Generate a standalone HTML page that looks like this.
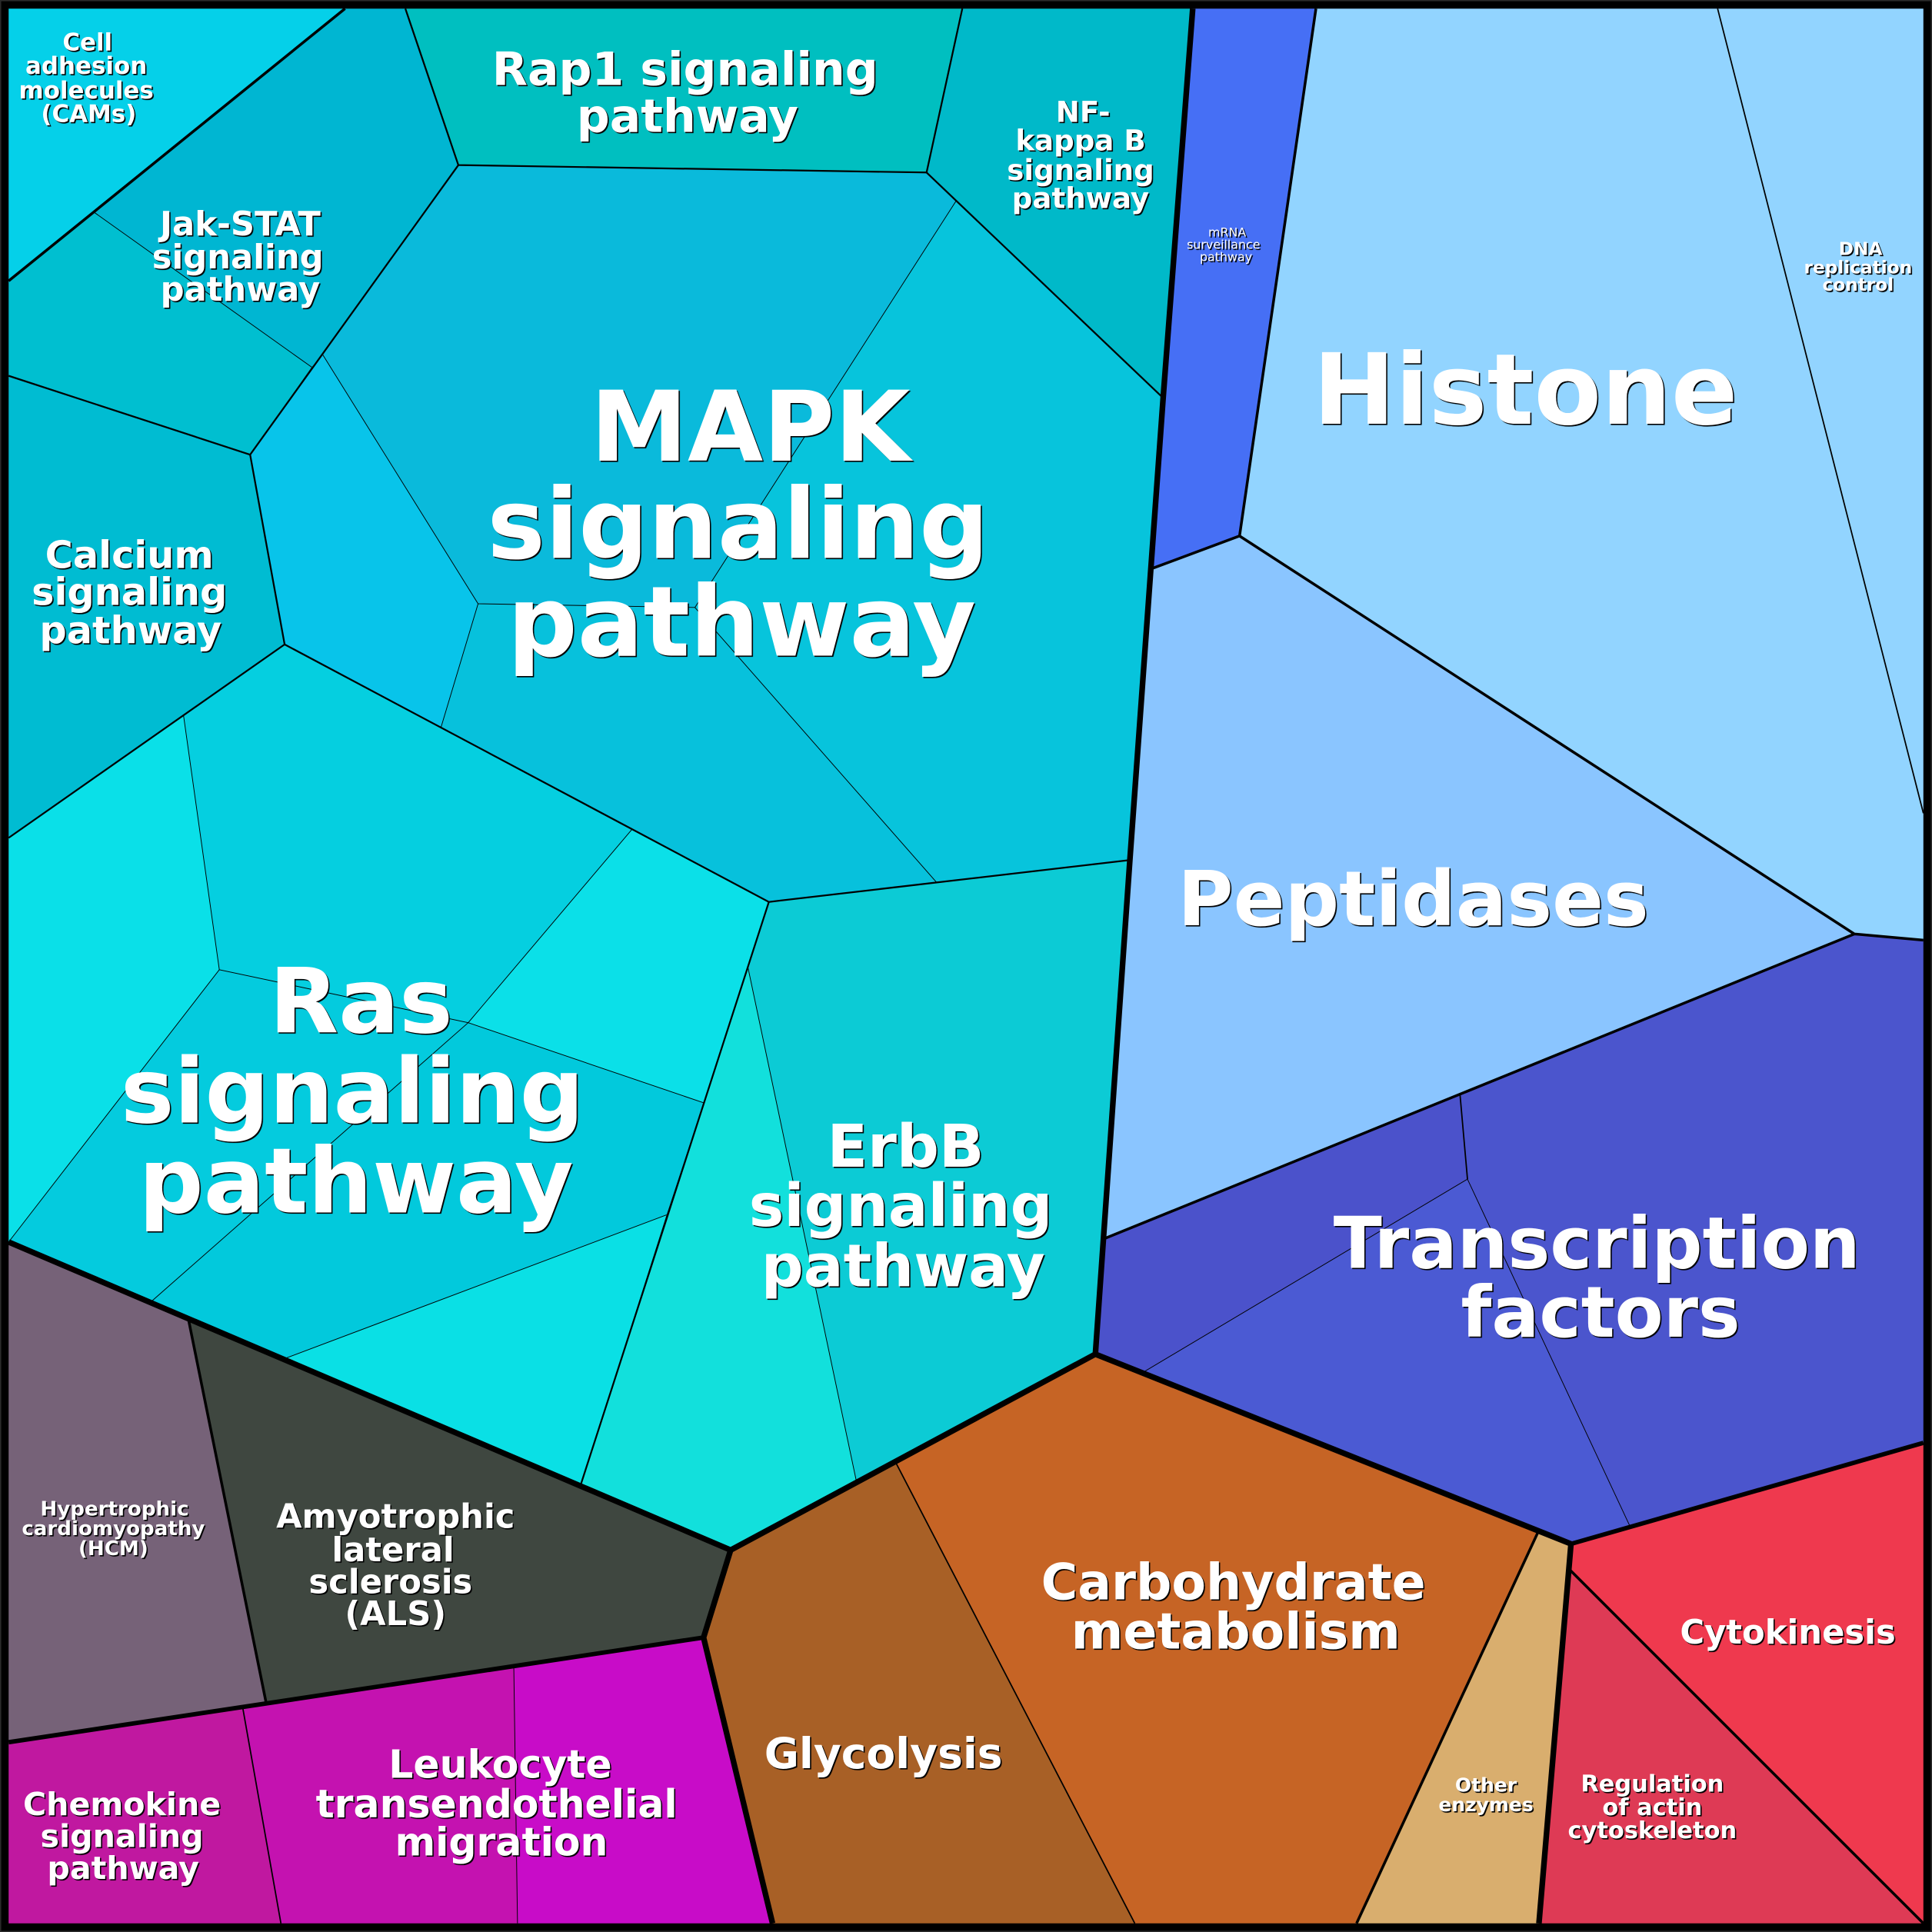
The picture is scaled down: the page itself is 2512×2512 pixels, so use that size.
<!DOCTYPE html>
<html><head><meta charset="utf-8"><style>
html,body{margin:0;padding:0;background:#000;width:2512px;height:2512px;overflow:hidden}
svg{display:block}
text{font-family:"DejaVu Sans",sans-serif;font-weight:bold;fill:#fff;text-anchor:middle}
.s{filter:drop-shadow(1px 1px 0 #000)}
.l{filter:drop-shadow(1.5px 1.5px 0 #000)}
</style></head><body>
<svg xmlns="http://www.w3.org/2000/svg" width="2512" height="2512" viewBox="0 0 1568 1568">
<rect width="1568" height="1568" fill="#000" stroke="#2a2a2a" stroke-width="2"/>
<g stroke="none">
<polygon fill="#05d0e9" points="7,7 280,7 7,228"/>
<polygon fill="#00b6d2" points="280,7 329,7 372,134 262,288 253,298 76,172"/>
<polygon fill="#00bfd0" points="7,228 76,172 253,298 203,369 7,305"/>
<polygon fill="#00bfc0" points="329,7 781,7 752,140 372,134"/>
<polygon fill="#00b9c9" points="781,7 968,7 944,323 776,163 752,140"/>
<polygon fill="#0abadb" points="372,134 752,140 776,163 564,493 388,490 262,288"/>
<polygon fill="#08c4ea" points="262,288 388,490 358,590 231,523 203,369"/>
<polygon fill="#07c4dc" points="776,163 944,323 917,698 760,716 564,493"/>
<polygon fill="#07c1dc" points="388,490 564,493 760,716 624,732 513,673 358,590"/>
<polygon fill="#00bcd2" points="7,305 203,369 231,523 149,581 7,680"/>
<polygon fill="#0ae0e8" points="7,680 149,581 178,787 7,1008"/>
<polygon fill="#05cfe0" points="149,581 231,523 358,590 513,673 380,830 178,787"/>
<polygon fill="#0be0e8" points="513,673 624,732 607,785 571,895 380,830"/>
<polygon fill="#04cbde" points="178,787 380,830 122,1057 7,1008"/>
<polygon fill="#02c9dc" points="380,830 571,895 541,986 230,1103 122,1057"/>
<polygon fill="#0ae0e5" points="541,986 471,1206 230,1103"/>
<polygon fill="#0ccbd5" points="624,732 760,716 917,698 889,1099 695,1202 607,785"/>
<polygon fill="#12e0dc" points="607,785 695,1202 593,1258 471,1206"/>
<polygon fill="#466ff5" points="968,7 1068,7 1006,435 936,461"/>
<polygon fill="#92d4ff" points="1068,7 1394,7 1561,660 1561,763 1505,758 1006,435"/>
<polygon fill="#92d4ff" points="1394,7 1561,7 1561,660"/>
<polygon fill="#8ac5ff" points="936,461 1006,435 1505,758 1185,889 897,1005"/>
<polygon fill="#4b52cb" points="897,1005 1185,889 1191,957 929,1113 889,1099"/>
<polygon fill="#4b55cd" points="1185,889 1505,758 1561,763 1561,1171 1323,1239 1191,957"/>
<polygon fill="#4b5ad3" points="1191,957 1323,1239 1275,1253 929,1113"/>
<polygon fill="#c66425" points="889,1099 1248,1244 1101,1561 921,1561 727,1187"/>
<polygon fill="#a86026" points="593,1258 727,1187 921,1561 627,1561 571,1329"/>
<polygon fill="#d9ae6e" points="1248,1244 1275,1253 1272,1272 1249,1561 1101,1561"/>
<polygon fill="#de3a55" points="1272,1272 1561,1561 1249,1561"/>
<polygon fill="#ef394e" points="1275,1253 1561,1171 1561,1561 1272,1272"/>
<polygon fill="#766278" points="7,1008 153,1071 216,1382 7,1414"/>
<polygon fill="#3f4740" points="153,1071 593,1258 571,1329 216,1382"/>
<polygon fill="#c018a0" points="7,1414 197,1386 228,1561 7,1561"/>
<polygon fill="#c412b0" points="197,1386 417,1353 420,1561 228,1561"/>
<polygon fill="#c80cc8" points="417,1353 571,1329 627,1561 420,1561"/>
</g>
<g fill="none" stroke="#000" stroke-linejoin="miter">
<g stroke-width="0.6">
<polyline points="76,172 253,298"/>
<polyline points="262,288 388,490 564,493"/>
<polyline points="388,490 358,590"/>
<polyline points="776,163 564,493 760,716"/>
<polyline points="149,581 178,787 380,830 513,673"/>
<polyline points="178,787 7,1008"/>
<polyline points="380,830 571,895"/>
<polyline points="380,830 122,1057"/>
<polyline points="541,986 230,1103"/>
<polyline points="607,785 695,1202"/>
<polyline points="1191,957 929,1113"/>
<polyline points="1191,957 1323,1239"/>
<polyline points="417,1353 420,1561"/>
</g>
<g stroke-width="1.1">
<polyline points="1394,7 1561,660"/>
<polyline points="197,1386 228,1561"/>
<polyline points="727,1187 921,1561"/>
<polyline points="1185,889 1191,957"/>
</g>
<g stroke-width="1.4">
<polyline points="329,7 372,134 752,140 781,7"/>
<polyline points="752,140 944,323"/>
<polyline points="372,134 203,369 7,305"/>
<polyline points="203,369 231,523 7,680"/>
<polyline points="231,523 624,732 917,698"/>
<polyline points="624,732 471,1206"/>
</g>
<g stroke-width="2.2">
<polyline points="7,228 280,7"/>
<polyline points="936,461 1006,435 1505,758 1561,763"/>
<polyline points="1068,7 1006,435"/>
<polyline points="1505,758 897,1005"/>
<polyline points="153,1071 216,1382"/>
<polyline points="1248,1244 1101,1561"/>
<polyline points="1272,1272 1561,1561"/>
</g>
<g stroke-width="3.6">
<polyline points="1275,1253 1561,1171"/>
<polyline points="7,1414 571,1329"/>
</g>
<g stroke-width="4.6">
<polyline points="968,7 944,323 917,698 889,1099"/>
<polyline points="7,1008 593,1258 889,1099 1275,1253 1249,1561"/>
<polyline points="593,1258 571,1329 627,1561"/>
</g>
</g>
<g class="l">
<text font-size="79.2" x="609" y="374">MAPK</text>
<text font-size="79" x="599" y="453">signaling</text>
<text font-size="79.2" x="602" y="532">pathway</text>
<text font-size="73" x="293" y="838">Ras</text>
<text font-size="73" x="286" y="911">signaling</text>
<text font-size="73.5" x="289" y="984">pathway</text>
<text font-size="79.6" x="1238" y="344">Histone</text>
<text font-size="61.6" x="1147" y="751">Peptidases</text>
<text font-size="57.7" x="1296" y="1029">Transcription</text>
<text font-size="57.3" x="1299" y="1085">factors</text>
<text font-size="48" x="735" y="947">ErbB</text>
<text font-size="47.8" x="731" y="995">signaling</text>
<text font-size="48" x="733" y="1044">pathway</text>
<text font-size="40.5" x="1001" y="1298">Carbohydrate</text>
<text font-size="40.5" x="1003" y="1338">metabolism</text>
</g>
<g class="s">
<text font-size="37.5" x="556" y="69">Rap1 signaling</text>
<text font-size="37.5" x="558" y="107">pathway</text>
<text font-size="23.2" x="879" y="99">NF-</text>
<text font-size="23.2" x="877" y="122">kappa B</text>
<text font-size="23.2" x="877" y="146">signaling</text>
<text font-size="23.2" x="877" y="169">pathway</text>
<text font-size="27" x="195" y="191">Jak-STAT</text>
<text font-size="27" x="193" y="218">signaling</text>
<text font-size="27" x="195" y="244">pathway</text>
<text font-size="30.8" x="105" y="461">Calcium</text>
<text font-size="30.8" x="105" y="491">signaling</text>
<text font-size="30.8" x="106" y="522">pathway</text>
<text font-size="19.3" x="71" y="41">Cell</text>
<text font-size="19.3" x="70" y="60">adhesion</text>
<text font-size="19.3" x="70" y="80">molecules</text>
<text font-size="19.3" x="72" y="99">(CAMs)</text>
<text font-size="9.9" x="996" y="192" style="font-weight:normal">mRNA</text>
<text font-size="9.9" x="993" y="202" style="font-weight:normal">surveillance</text>
<text font-size="9.9" x="995" y="212" style="font-weight:normal">pathway</text>
<text font-size="14.5" x="1510" y="207">DNA</text>
<text font-size="14.5" x="1508" y="222">replication</text>
<text font-size="14.5" x="1508" y="236">control</text>
<text font-size="34.4" x="717" y="1435">Glycolysis</text>
<text font-size="31.5" x="406" y="1443">Leukocyte</text>
<text font-size="31.5" x="403" y="1475">transendothelial</text>
<text font-size="31.5" x="407" y="1506">migration</text>
<text font-size="27" x="321" y="1240">Amyotrophic</text>
<text font-size="27" x="319" y="1267">lateral</text>
<text font-size="27" x="317" y="1293">sclerosis</text>
<text font-size="27" x="321" y="1319">(ALS)</text>
<text font-size="16.3" x="93" y="1230">Hypertrophic</text>
<text font-size="16.3" x="92" y="1246">cardiomyopathy</text>
<text font-size="16.3" x="92" y="1262">(HCM)</text>
<text font-size="25.7" x="99" y="1473">Chemokine</text>
<text font-size="25.7" x="99" y="1499">signaling</text>
<text font-size="25.7" x="100" y="1525">pathway</text>
<text font-size="27" x="1451" y="1334">Cytokinesis</text>
<text font-size="19" x="1341" y="1454">Regulation</text>
<text font-size="19" x="1341" y="1473">of actin</text>
<text font-size="19" x="1341" y="1492">cytoskeleton</text>
<text font-size="15.6" x="1206" y="1454">Other</text>
<text font-size="15.6" x="1206" y="1470">enzymes</text>
</g>
</svg>
</body></html>
